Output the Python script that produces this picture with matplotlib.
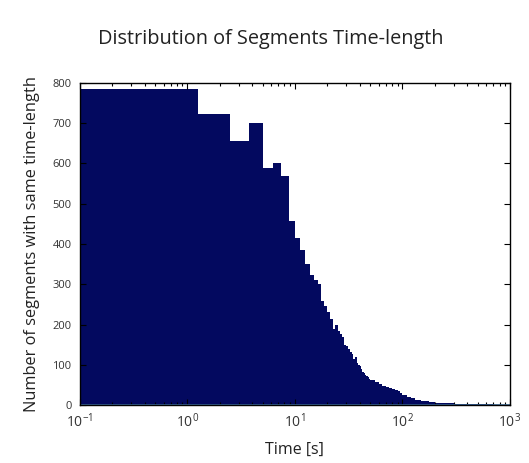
import numpy as np
import matplotlib
matplotlib.use("Agg")
import matplotlib.pyplot as plt
from matplotlib.ticker import FixedLocator, FuncFormatter, LogLocator, NullFormatter

plt.rcParams['font.family'] = ['Open Sans', 'DejaVu Sans']
plt.rcParams['mathtext.fontset'] = 'custom'
plt.rcParams['mathtext.rm'] = 'Open Sans'
plt.rcParams['mathtext.it'] = 'Open Sans'

# histogram: 1.25 s bins up to 50 s, then coarser bins for the long tail
fine_edges = [i * 1.25 for i in range(41)]
fine_counts = [785, 722, 655, 700, 588, 600, 568, 457, 415, 385,
               350, 322, 310, 300, 258, 245, 230, 215, 190, 200,
               185, 177, 170, 150, 148, 140, 132, 128, 115, 120,
               105, 100, 98, 90, 82, 80, 75, 72, 70, 66]
tail_edges = [55, 60, 65, 70, 75, 80, 85, 90, 95, 100, 110, 120, 130,
              150, 175, 200, 250, 300, 400, 500, 700, 1000]
tail_counts = [62, 57, 52, 48, 45, 42, 40, 38, 35, 30, 25, 20, 17,
               13, 10, 8, 6, 5, 4, 3, 2, 1]

edges = np.array(fine_edges + tail_edges, dtype=float)
counts = np.array(fine_counts + tail_counts, dtype=float)

x_min, x_max = 0.1, 1000
edges[0] = x_min  # first bin starts at 0, clipped to the log axis

fig = plt.figure(figsize=(5.29, 4.63), dpi=100)
ax = fig.add_axes([0.151, 0.125, 0.813, 0.696])

ax.stairs(counts, edges, fill=True, color='#03095f', linewidth=0)
ax.plot([x_min, x_max], [1.5, 1.5], color='#3f6f9c', linewidth=1.2)

ax.set_xscale('log')
ax.set_xlim(x_min, x_max)
ax.set_ylim(0, 800)

ax.xaxis.set_major_locator(FixedLocator([0.1, 1, 10, 100, 1000]))
ax.xaxis.set_major_formatter(FuncFormatter(
    lambda v, p: r'$10^{%d}$' % int(round(np.log10(v)))))
ax.xaxis.set_minor_locator(LogLocator(base=10, subs=np.arange(2, 10), numticks=20))
ax.xaxis.set_minor_formatter(NullFormatter())
ax.set_yticks(range(0, 801, 100))

ax.tick_params(which='both', direction='in', top=True, right=True, width=0.8)
ax.tick_params(which='major', length=4)
ax.tick_params(which='minor', length=2)
ax.tick_params(axis='y', labelsize=8, labelcolor='#333333', pad=6)
ax.tick_params(axis='x', labelsize=10, labelcolor='#333333', pad=5)
for s in ax.spines.values():
    s.set_linewidth(1.0)

fig.text(0.512, 0.915, 'Distribution of Segments Time-length', fontsize=14.3,
         color='#222222', ha='center', va='center')
ax.set_xlabel('Time [s]', fontsize=11.5, color='#222222', labelpad=8)
ax.set_ylabel('Number of segments with same time-length', fontsize=11.8,
              color='#222222', labelpad=9)

fig.savefig('out.png', dpi=100, facecolor='white')
